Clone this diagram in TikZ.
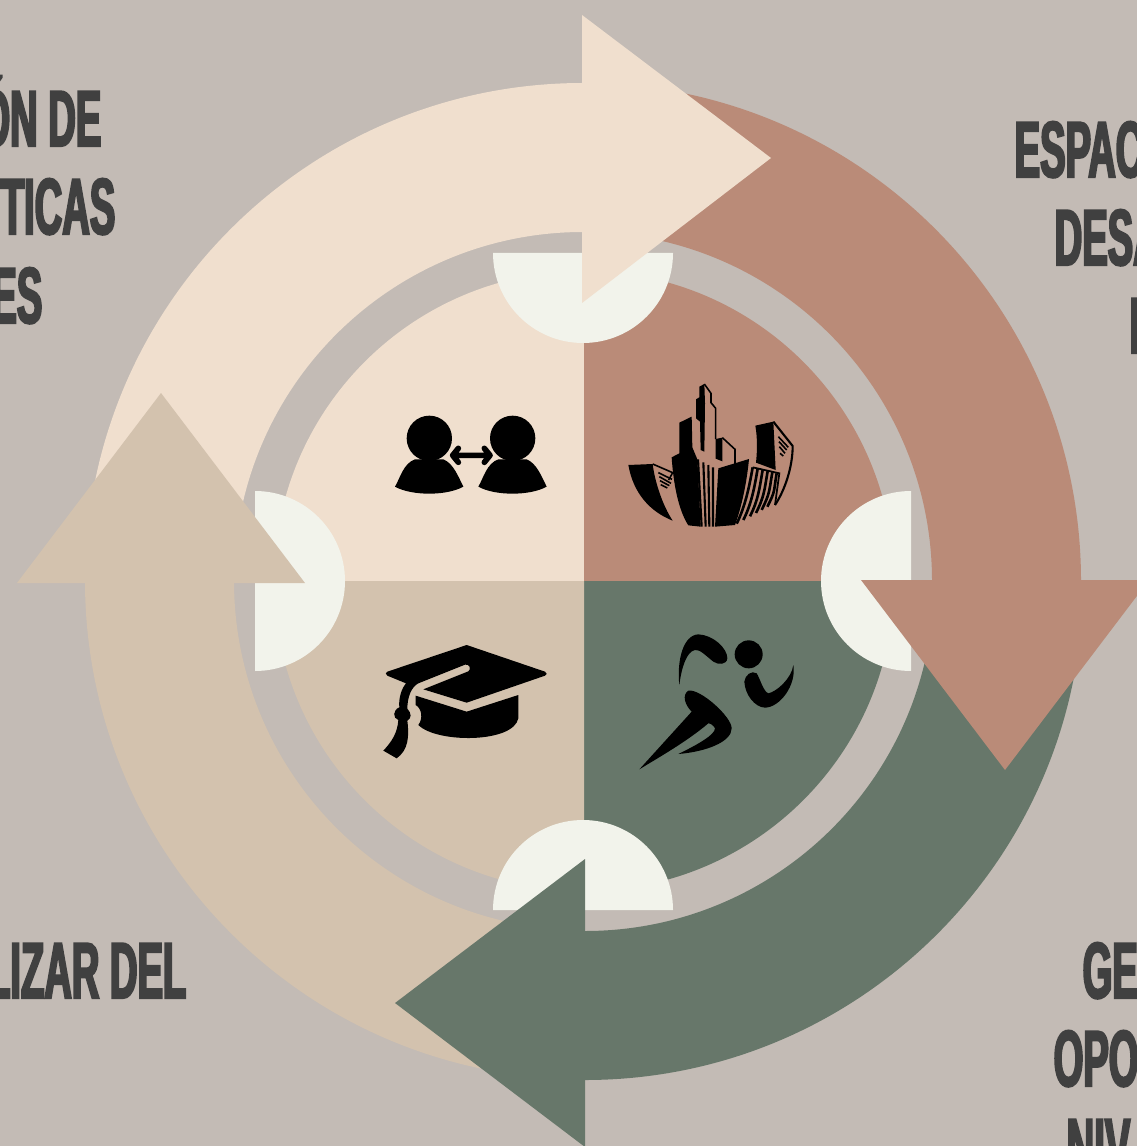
\documentclass[tikz,border=0pt]{standalone}
\usepackage{fontspec}
\newfontfamily\labelfont[FakeStretch=0.48,FakeBold=2.6]{Liberation Sans Bold}
\definecolor{backgray}{RGB}{195,187,181}
\definecolor{sandcolor}{RGB}{240,223,206}
\definecolor{claycolor}{RGB}{186,139,120}
\definecolor{mosscolor}{RGB}{103,119,106}
\definecolor{tancolor}{RGB}{211,194,174}
\definecolor{notchcolor}{RGB}{242,243,235}
\definecolor{textgray}{RGB}{64,64,64}
\tikzset{
  txt/.style={inner sep=0pt,text=textgray,font=\labelfont\fontsize{22.6}{22.6}\selectfont},
  thinline/.style={draw=black,line width=.45pt},
}
\begin{document}
\begin{tikzpicture}[x=.01cm,y=-.01cm]
  \useasboundingbox (0,0) rectangle (1137,1146);
  \clip (0,0) rectangle (1137,1146);
  \fill[backgray] (0,0) rectangle (1137,1146);
  % labels
  \node[txt,anchor=base east] (polia) at (102,146) {ÓN DE};
  \node[txt,anchor=base east] (polib) at (116,234) {TICAS};
  \node[txt,anchor=base east] (polic) at (43,323) {ES};
  \node[txt,anchor=base west] (espa) at (1014,177) {ESPAC};
  \node[txt,anchor=base west] (desa) at (1054,265) {DESA};
  \node[txt,anchor=base west] (espc) at (1129,353) {I};
  \node[txt,anchor=base east] (liza) at (187,998) {LIZAR DEL};
  \node[txt,anchor=base west] (gene) at (1082,998) {GEN};
  \node[txt,anchor=base west] (opor) at (1053,1086) {OPO};
  \node[txt,anchor=base west] (nive) at (1066,1174) {NIV};
  % arrow bodies
  \fill[sandcolor] (85,581) arc[start angle=180,end angle=270,radius=498] -- (583,232) arc[start angle=270,end angle=180,radius=349] -- cycle;
  \fill[claycolor] (583,83) arc[start angle=270,end angle=360,radius=498] -- (932,581) arc[start angle=360,end angle=270,radius=349] -- cycle;
  \fill[mosscolor] (1083,582) arc[start angle=0,end angle=90,radius=498] -- (585,931) arc[start angle=90,end angle=0,radius=349] -- cycle;
  \fill[tancolor] (583,1079) arc[start angle=90,end angle=180,radius=498] -- (234,581) arc[start angle=180,end angle=90,radius=349] -- cycle;
  % inner disc
  \fill[sandcolor] (584,581) -- (274,581) arc[start angle=180,end angle=270,radius=310] -- cycle;
  \fill[claycolor] (584,581) -- (584,271) arc[start angle=270,end angle=360,radius=310] -- cycle;
  \fill[mosscolor] (584,581) -- (894,581) arc[start angle=0,end angle=90,radius=310] -- cycle;
  \fill[tancolor] (584,581) -- (584,891) arc[start angle=90,end angle=180,radius=310] -- cycle;
  % notches
  \fill[notchcolor] (493,253) arc[start angle=180,end angle=0,radius=90] -- cycle;
  \fill[notchcolor] (911,491) arc[start angle=270,end angle=90,radius=90] -- cycle;
  \fill[notchcolor] (493,910) arc[start angle=180,end angle=360,radius=90] -- cycle;
  \fill[notchcolor] (255,491) arc[start angle=-90,end angle=90,radius=90] -- cycle;
  % arrow heads
  \fill[sandcolor] (582,15) -- (771,158) -- (582,303) -- cycle;
  \fill[claycolor] (1149,580) -- (1005,770) -- (861,580) -- cycle;
  \fill[mosscolor] (585,1147) -- (395,1003) -- (585,859) -- cycle;
  \fill[tancolor] (17,583) -- (161,393) -- (305,583) -- cycle;
  % people
  \begin{scope}[shift={(370,370)},xscale=1/3,yscale=1/3]
    \fill (178,205) circle (68);
    \fill (428,205) circle (68);
    \fill (75,350) .. controls (90,325) and (100,280) .. (135,268) -- (220,268) .. controls (250,280) and (265,320) .. (280,350) .. controls (230,378) and (125,378) .. (75,350) -- cycle;
    \fill (325,350) .. controls (340,325) and (350,280) .. (385,268) -- (470,268) .. controls (500,280) and (515,320) .. (530,350) .. controls (480,378) and (375,378) .. (325,350) -- cycle;
    \draw[line width=1.6pt,line cap=round,line join=round] (265,235) -- (248,256) -- (265,277) (248,256) -- (360,256) (343,235) -- (360,256) -- (343,277);
  \end{scope}
  % buildings
  \begin{scope}[shift={(610,370)},xscale=1/3,yscale=1/3]
    \fill (55,285) -- (128,282) .. controls (135,340) and (160,410) .. (188,452) .. controls (120,425) and (70,370) .. (55,285) -- cycle;
    \draw[thinline] (128,282) -- (188,308) -- (176,330);
    \draw[thinline] (145,308) -- (186,328) (148,320) -- (183,340) (150,332) -- (178,347) (152,344) -- (172,354);
    \fill (185,262) -- (208,250) -- (208,158) -- (245,140) -- (247,232) -- (262,268) -- (272,470) -- (235,466) .. controls (205,420) and (190,340) .. (185,262) -- cycle;
    \fill (258,145) -- (258,88) -- (268,82) -- (268,50) -- (283,42) -- (285,100) -- (283,245) -- (272,240) -- (270,155) -- cycle;
    \draw[thinline] (283,42) -- (303,70) -- (303,98) -- (317,115) -- (317,207);
    \fill (317,207) -- (337,203) -- (337,274) -- (317,266) -- cycle;
    \draw[thinline] (337,203) -- (375,238) -- (375,282);
    \fill (325,295) -- (417,267) .. controls (410,340) and (395,410) .. (375,465) -- (315,470) -- cycle;
    \draw[line width=.6pt] (264,268) -- (275,470) (280,277) -- (287,470) (295,285) -- (298,470) (309,292) -- (309,470);
    \fill (436,167) -- (490,155) -- (497,300) -- (438,278) .. controls (442,240) and (442,200) .. (436,167) -- cycle;
    \draw[thinline,line width=.6pt] (490,155) -- (548,228) .. controls (548,290) and (525,360) .. (495,405);
    \draw[thinline] (505,200) -- (535,232) (507,215) -- (530,240) (508,230) -- (525,250) (510,250) -- (520,258);
    \draw[line width=.5pt] (428,292) -- (508,310) -- (495,405);
    \foreach \xa/\xb in {428/380,443/400,458/420,473/438,487/455,500/472}{
      \draw[line width=.75pt] (\xa,{292+(\xa-428)/4}) .. controls (\xa-10,{350+(\xa-428)/4}) and (\xb+25,{412-(\xb-378)*.55}) .. (\xb,{462-(\xb-378)*.55});
    }
  \end{scope}
  % cap
  \begin{scope}[shift={(370,630)},xscale=1/3,yscale=1/3]
    \fill (290,45) -- (525,125) .. controls (532,130) and (532,134) .. (525,137) -- (290,218) -- (160,178) -- (295,124) .. controls (305,118) and (298,100) .. (285,104) -- (145,160) .. controls (125,170) and (112,200) .. (112,236) .. controls (125,250) and (125,265) .. (112,272) .. controls (118,320) and (115,360) .. (80,385) -- (40,362) .. controls (65,335) and (82,310) .. (85,270) .. controls (68,265) and (68,240) .. (88,232) .. controls (85,205) and (95,175) .. (108,160) -- (52,137) .. controls (46,132) and (46,128) .. (52,125) -- cycle;
    \fill (137,197) -- (290,245) -- (445,195) -- (445,265) .. controls (430,340) and (200,340) .. (145,285) .. controls (160,265) and (155,235) .. (137,225) -- cycle;
  \end{scope}
  % runner
  \begin{scope}[shift={(620,620)},xscale=1/3,yscale=1/3]
    \fill (386,103) circle (42);
    \fill (178,195) .. controls (170,120) and (190,45) .. (235,43) .. controls (280,45) and (322,85) .. (322,115) .. controls (320,135) and (295,135) .. (280,125) .. controls (255,105) and (240,88) .. (225,90) .. controls (200,95) and (185,140) .. (178,195) -- cycle;
    \fill (520,135) .. controls (515,175) and (470,215) .. (445,220) .. controls (430,215) and (420,175) .. (410,160) .. controls (395,150) and (375,165) .. (373,185) .. controls (375,225) and (405,262) .. (435,263) .. controls (480,262) and (530,195) .. (520,135) -- cycle;
    \fill (58,448) -- (215,275) .. controls (195,255) and (185,225) .. (205,212) .. controls (240,205) and (335,290) .. (335,325) .. controls (335,365) and (260,395) .. (175,402) .. controls (230,375) and (285,345) .. (285,325) .. controls (280,315) and (270,310) .. (265,310) .. controls (200,365) and (120,410) .. (58,448) -- cycle;
  \end{scope}
\end{tikzpicture}
\end{document}
